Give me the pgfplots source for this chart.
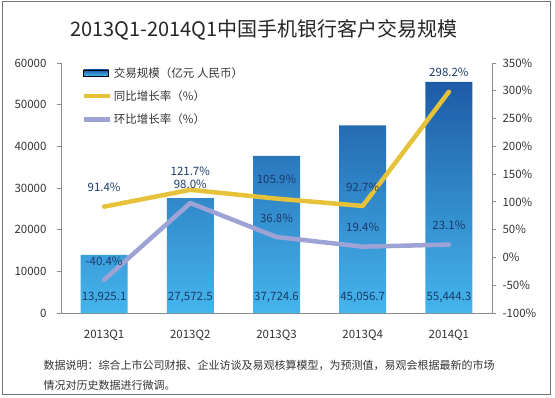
\documentclass[border=0pt]{standalone}
\usepackage{fontspec}
\setmainfont{Noto Sans CJK SC}
\usepackage{pgfplots}
\pgfplotsset{compat=1.18}
\definecolor{bartop}{HTML}{1D5BA6}
\definecolor{barbot}{HTML}{45B5EC}
\definecolor{yoy}{HTML}{E6C23A}
\definecolor{qoq}{HTML}{9EA3D6}
\definecolor{lbl}{HTML}{1B3A6B}
\definecolor{axgray}{HTML}{8C8C8C}
\definecolor{txt}{HTML}{333333}
\begin{document}
\begin{tikzpicture}
\path[use as bounding box] (0pt,0pt) rectangle (555pt,397pt);
\draw[black!55, line width=1pt] (2pt,3pt) rectangle (550pt,395pt);
\node[font=\fontsize{20}{24}\selectfont, text=black!85] at (264pt,367pt) {2013Q1-2014Q1中国手机银行客户交易规模};

\begin{axis}[
  at={(61pt,84pt)}, anchor=south west, scale only axis,
  width=431pt, height=250pt,
  xmin=-0.5, xmax=4.5, ymin=0, ymax=60000,
  ytick={0,10000,...,60000},
  xtick={0,1,2,3,4},
  xticklabels={2013Q1,2013Q2,2013Q3,2013Q4,2014Q1},
  axis y line*=left, axis x line*=bottom,
  axis line style={axgray, line width=0.8pt, -},
  x tick style={draw=none},
  y tick style={axgray, line width=0.8pt},
  tick align=outside, major tick length=4pt,
  scaled y ticks=false,
  /pgf/number format/assume math mode=true,
  /pgf/number format/set thousands separator={},
  tick label style={font=\fontsize{11.5}{14}\selectfont, text=txt},
  yticklabel style={xshift=-7pt},
  xticklabel style={yshift=-9pt},
]
\addplot[ybar, bar width=47pt, draw=none, top color=bartop, bottom color=barbot]
  coordinates {(0,13925.1) (1,27572.5) (2,37724.6) (3,45056.7) (4,55444.3)};
\begin{scope}[every node/.style={font=\fontsize{11.5}{14}\selectfont, text=lbl}]
\node at (axis cs:0,3840) {13,925.1};
\node at (axis cs:1,3840) {27,572.5};
\node at (axis cs:2,3840) {37,724.6};
\node at (axis cs:3,3840) {45,056.7};
\node at (axis cs:4,3840) {55,444.3};
\end{scope}
\end{axis}

\begin{axis}[
  at={(61pt,84pt)}, anchor=south west, scale only axis,
  width=431pt, height=250pt,
  xmin=-0.5, xmax=4.5, ymin=-100, ymax=350,
  ytick={-100,-50,...,350},
  hide x axis,
  axis y line*=right,
  axis line style={axgray, line width=0.8pt, -},
  y tick style={axgray, line width=0.8pt},
  tick align=outside, major tick length=4pt,
  /pgf/number format/assume math mode=true,
  yticklabel={\pgfmathprintnumber{\tick}\%},
  tick label style={font=\fontsize{11.5}{14}\selectfont, text=txt},
  yticklabel style={xshift=3pt},
  legend style={at={(0.04,1.0)}, anchor=north west, draw=none, fill=none,
    font=\fontsize{11.5}{14}\selectfont, text=txt, row sep=8pt,
    legend cell align=left},
  legend cell align=left,
  every node near coord/.style={font=\fontsize{11.5}{14}\selectfont, text=lbl, anchor=center, yshift=19pt},
]
\addlegendimage{legend image code/.code={\shade[top color=bartop,bottom color=barbot] (0pt,-3pt) rectangle (25pt,3pt);}}
\addlegendentry{交易规模（亿元 人民币）}
\addlegendimage{legend image code/.code={\draw[yoy, line width=4.5pt] (0pt,0pt) -- (26pt,0pt);}}
\addlegendentry{同比增长率（\%）}
\addlegendimage{legend image code/.code={\draw[qoq, line width=4.5pt] (0pt,0pt) -- (26pt,0pt);}}
\addlegendentry{环比增长率（\%）}
\addplot[forget plot, qoq, line width=4.5pt, line cap=round, line join=round,
  nodes near coords={\pgfmathprintnumber[fixed,fixed zerofill,precision=1]{\pgfplotspointmeta}\%}]
  coordinates {(0,-40.4) (1,98.0) (2,36.8) (3,19.4) (4,23.1)};
\addplot[forget plot, yoy, line width=4.5pt, line cap=round, line join=round,
  nodes near coords={\pgfmathprintnumber[fixed,fixed zerofill,precision=1]{\pgfplotspointmeta}\%}]
  coordinates {(0,91.4) (1,121.7) (2,105.9) (3,92.7) (4,298.2)};
\end{axis}

\node[anchor=west, font=\fontsize{11}{13}\selectfont, text=txt] at (40pt,32pt) {数据说明：综合上市公司财报、企业访谈及易观核算模型，为预测值，易观会根据最新的市场};
\node[anchor=west, font=\fontsize{11}{13}\selectfont, text=txt] at (40pt,12pt) {情况对历史数据进行微调。};
\end{tikzpicture}
\end{document}
